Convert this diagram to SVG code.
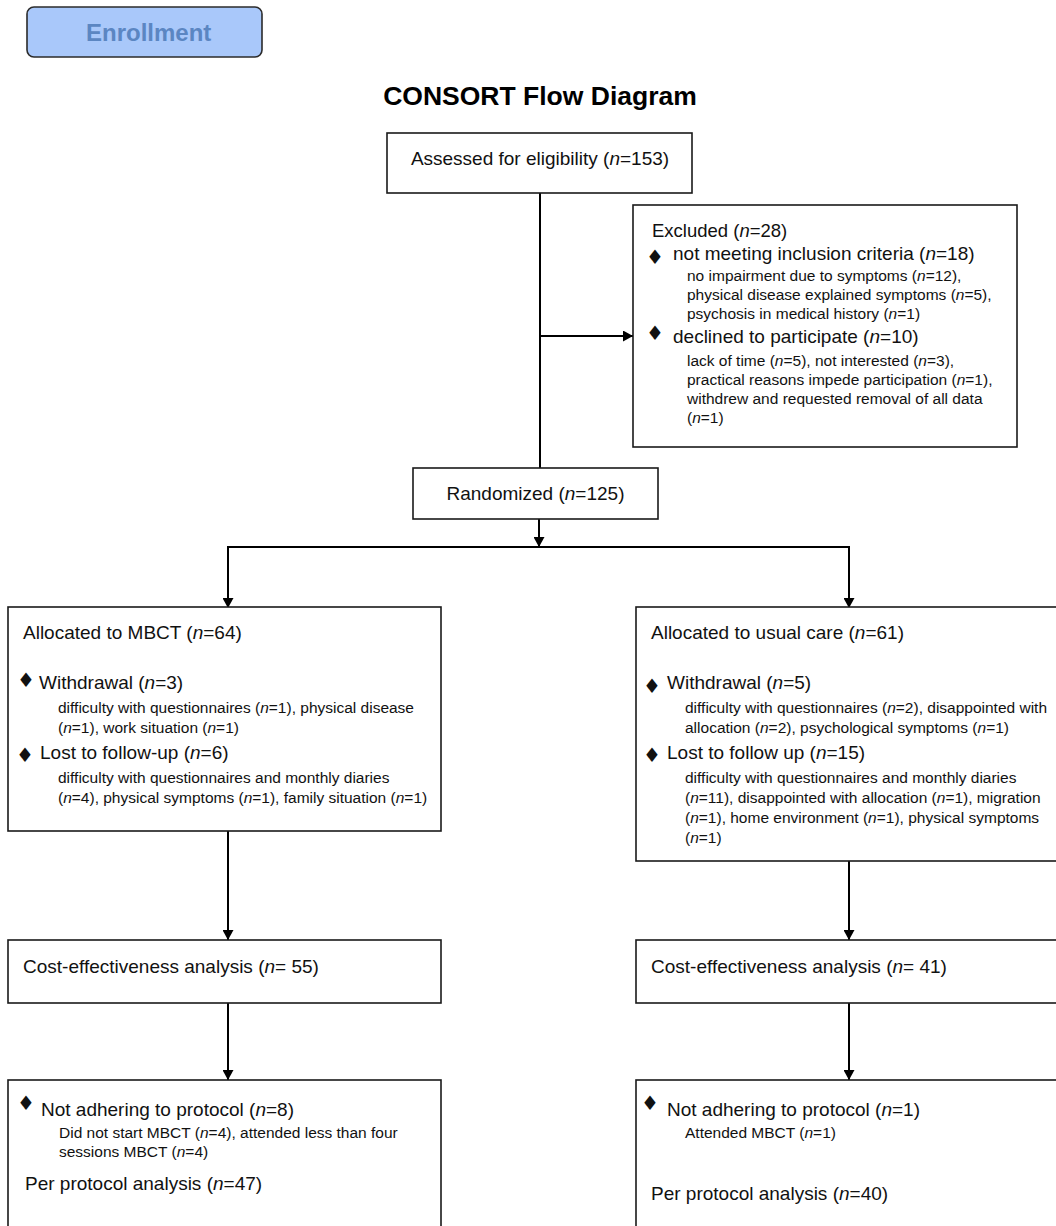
<svg xmlns="http://www.w3.org/2000/svg" width="1056" height="1226" viewBox="0 0 1056 1226">
<defs>
<marker id="arr" viewBox="0 0 10 11" refX="10" refY="5.5" markerWidth="10" markerHeight="11" markerUnits="userSpaceOnUse" orient="auto">
<path d="M0,0 L10,5.5 L0,11 z" fill="#000"/>
</marker>
</defs>
<style>
.box{fill:#fff;stroke:#1a1a1a;stroke-width:1.6}
.ln{fill:none;stroke:#000;stroke-width:2}
text{font-family:"Liberation Sans",Arial,sans-serif;fill:#111}
.m{font-size:19px}
.s{font-size:15.5px}
.b{font-family:"DejaVu Sans",sans-serif;font-size:20px;text-anchor:middle}
.i{font-style:italic}
</style>
<rect width="1056" height="1226" fill="#fff"/>
<g id="enrollment">
<rect x="27" y="7" width="235" height="50" rx="7" fill="#a9c8fa" stroke="#2b2b2b" stroke-width="1.6"/>
<text x="86" y="41" style="font-size:24px;font-weight:bold;fill:#5b86c2">Enrollment</text>
</g>
<g id="title">
<text x="540" y="105" text-anchor="middle" style="font-size:26.5px;font-weight:bold;fill:#000">CONSORT Flow Diagram</text>
</g>
<g id="connectors">
<line class="ln" x1="540" y1="193" x2="540" y2="468"/>
<line class="ln" x1="540" y1="336" x2="633" y2="336" marker-end="url(#arr)"/>
<line class="ln" x1="539" y1="519" x2="539" y2="547" marker-end="url(#arr)"/>
<line class="ln" x1="227" y1="547" x2="850" y2="547"/>
<line class="ln" x1="228" y1="546" x2="228" y2="608" marker-end="url(#arr)"/>
<line class="ln" x1="849" y1="546" x2="849" y2="608" marker-end="url(#arr)"/>
<line class="ln" x1="228" y1="831" x2="228" y2="940" marker-end="url(#arr)"/>
<line class="ln" x1="849" y1="861" x2="849" y2="940" marker-end="url(#arr)"/>
<line class="ln" x1="228" y1="1003" x2="228" y2="1080" marker-end="url(#arr)"/>
<line class="ln" x1="849" y1="1003" x2="849" y2="1080" marker-end="url(#arr)"/>
</g>
<g id="assessed">
<rect class="box" x="387" y="133" width="305" height="60"/>
<text class="m" x="540" y="165" text-anchor="middle">Assessed for eligibility (<tspan class="i">n</tspan>=153)</text>
</g>
<g id="excluded">
<rect class="box" x="633" y="205" width="384" height="242"/>
<text x="652" y="237" style="font-size:18.5px">Excluded  (<tspan class="i">n</tspan>=28)</text>
<text class="b" x="655" y="263.5">♦</text>
<text class="m" x="673" y="260">not meeting inclusion criteria (<tspan class="i">n</tspan>=18)</text>
<text class="s" x="687" y="281">no impairment due to symptoms (<tspan class="i">n</tspan>=12),</text>
<text class="s" x="687" y="300">physical disease explained symptoms (<tspan class="i">n</tspan>=5),</text>
<text class="s" x="687" y="319">psychosis in medical history (<tspan class="i">n</tspan>=1)</text>
<text class="b" x="655" y="339.5">♦</text>
<text class="m" x="673" y="343">declined to participate (<tspan class="i">n</tspan>=10)</text>
<text class="s" x="687" y="366">lack of time (<tspan class="i">n</tspan>=5), not interested (<tspan class="i">n</tspan>=3),</text>
<text class="s" x="687" y="385">practical reasons impede participation (<tspan class="i">n</tspan>=1),</text>
<text class="s" x="687" y="404">withdrew and requested removal of all data</text>
<text class="s" x="687" y="423">(<tspan class="i">n</tspan>=1)</text>
</g>
<g id="randomized">
<rect class="box" x="413" y="468" width="245" height="51"/>
<text class="m" x="535.5" y="500" text-anchor="middle">Randomized (<tspan class="i">n</tspan>=125)</text>
</g>
<g id="alloc-mbct">
<rect class="box" x="8" y="607" width="433" height="224"/>
<text class="m" x="23" y="639">Allocated to MBCT (<tspan class="i">n</tspan>=64)</text>
<text class="b" x="26" y="686.5">♦</text>
<text class="m" x="39" y="689">Withdrawal (<tspan class="i">n</tspan>=3)</text>
<text class="s" x="58" y="713">difficulty with questionnaires (<tspan class="i">n</tspan>=1), physical disease</text>
<text class="s" x="58" y="733">(<tspan class="i">n</tspan>=1), work situation (<tspan class="i">n</tspan>=1)</text>
<text class="b" x="25" y="761.5">♦</text>
<text class="m" x="40" y="759">Lost to follow-up (<tspan class="i">n</tspan>=6)</text>
<text class="s" x="58" y="783">difficulty with questionnaires and monthly diaries</text>
<text class="s" x="58" y="803">(<tspan class="i">n</tspan>=4), physical symptoms (<tspan class="i">n</tspan>=1), family situation (<tspan class="i">n</tspan>=1)</text>
</g>
<g id="alloc-usual">
<rect class="box" x="636" y="607" width="424" height="254"/>
<text class="m" x="651" y="639">Allocated to usual care (<tspan class="i">n</tspan>=61)</text>
<text class="b" x="652" y="692.5">♦</text>
<text class="m" x="667" y="689">Withdrawal (<tspan class="i">n</tspan>=5)</text>
<text class="s" x="685" y="713">difficulty with questionnaires (<tspan class="i">n</tspan>=2), disappointed with</text>
<text class="s" x="685" y="733">allocation (<tspan class="i">n</tspan>=2), psychological symptoms (<tspan class="i">n</tspan>=1)</text>
<text class="b" x="652" y="761.5">♦</text>
<text class="m" x="667" y="759">Lost to follow up (<tspan class="i">n</tspan>=15)</text>
<text class="s" x="685" y="783">difficulty with questionnaires and monthly diaries</text>
<text class="s" x="685" y="803">(<tspan class="i">n</tspan>=11), disappointed with allocation  (<tspan class="i">n</tspan>=1), migration</text>
<text class="s" x="685" y="823">(<tspan class="i">n</tspan>=1), home environment (<tspan class="i">n</tspan>=1), physical symptoms</text>
<text class="s" x="685" y="843">(<tspan class="i">n</tspan>=1)</text>
</g>
<g id="cost-mbct">
<rect class="box" x="8" y="940" width="433" height="63"/>
<text class="m" x="23" y="973">Cost-effectiveness analysis (<tspan class="i">n</tspan>= 55)</text>
</g>
<g id="cost-usual">
<rect class="box" x="636" y="940" width="424" height="63"/>
<text class="m" x="651" y="973">Cost-effectiveness analysis (<tspan class="i">n</tspan>= 41)</text>
</g>
<g id="pp-mbct">
<rect class="box" x="8" y="1080" width="433" height="160"/>
<text class="b" x="26" y="1109.5">♦</text>
<text class="m" x="41" y="1116">Not adhering to protocol (<tspan class="i">n</tspan>=8)</text>
<text class="s" x="59" y="1138">Did not start MBCT (<tspan class="i">n</tspan>=4), attended less than four</text>
<text class="s" x="59" y="1157">sessions MBCT (<tspan class="i">n</tspan>=4)</text>
<text class="m" x="25" y="1190">Per protocol analysis (<tspan class="i">n</tspan>=47)</text>
</g>
<g id="pp-usual">
<rect class="box" x="636" y="1080" width="424" height="160"/>
<text class="b" x="650" y="1109.5">♦</text>
<text class="m" x="667" y="1116">Not adhering to protocol (<tspan class="i">n</tspan>=1)</text>
<text class="s" x="685" y="1138">Attended MBCT (<tspan class="i">n</tspan>=1)</text>
<text class="m" x="651" y="1200">Per protocol analysis (<tspan class="i">n</tspan>=40)</text>
</g>
</svg>
